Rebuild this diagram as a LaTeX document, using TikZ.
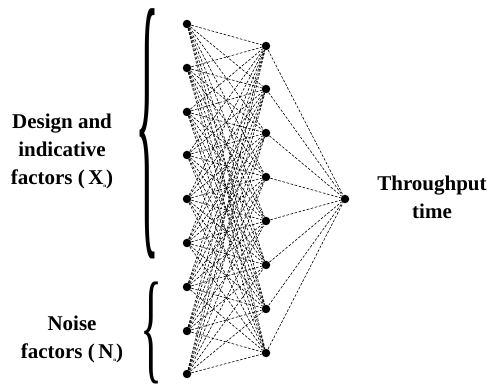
\documentclass[tikz,border=0pt]{standalone}
\usepackage{fontspec}
\setmainfont{Liberation Serif}
\begin{document}
\begin{tikzpicture}[x=1pt,y=-1pt,
  neuron/.style={circle,fill=black,inner sep=0pt,minimum size=8.5pt},
  link/.style={draw=black,line width=0.6pt,dash pattern=on 2.6pt off 1.6pt},
  lbl/.style={font=\fontsize{21}{28}\selectfont\bfseries,align=center,inner sep=0pt},
  bracenode/.style={inner sep=0pt,outer sep=0pt}]
\useasboundingbox (0,0) rectangle (490,387);
% input layer
\foreach \i/\y in {1/24,2/68,3/112,4/155,5/199,6/243,7/287,8/331,9/374}
  \node[neuron] (i\i) at (187,\y) {};
% hidden layer
\foreach \j/\y in {1/46,2/89,3/133,4/177,5/221,6/265,7/309,8/353}
  \node[neuron] (h\j) at (266,\y) {};
% output
\node[neuron] (o) at (345,199) {};
% connections
\foreach \i in {1,...,9}
  \foreach \j in {1,...,8}
    \draw[link] (i\i) -- (h\j);
\foreach \j in {1,...,8}
  \draw[link] (h\j) -- (o);
% braces
\node[bracenode] (b1) at (148,134) {\resizebox*{24pt}{250pt}{\{}};
\node[bracenode] (b2) at (152,333) {\resizebox*{22pt}{102pt}{\{}};
% labels
\node[lbl] (t1) at (62,151) {Design and\\indicative\\factors (\,X\raisebox{-3pt}{\fontsize{5}{5}\selectfont n})};
\node[lbl] (t2) at (72,339) {Noise\\factors (\,N\raisebox{-3pt}{\fontsize{5}{5}\selectfont n})};
\node[lbl] (t3) at (432,197) {Throughput\\time};
\end{tikzpicture}
\end{document}
